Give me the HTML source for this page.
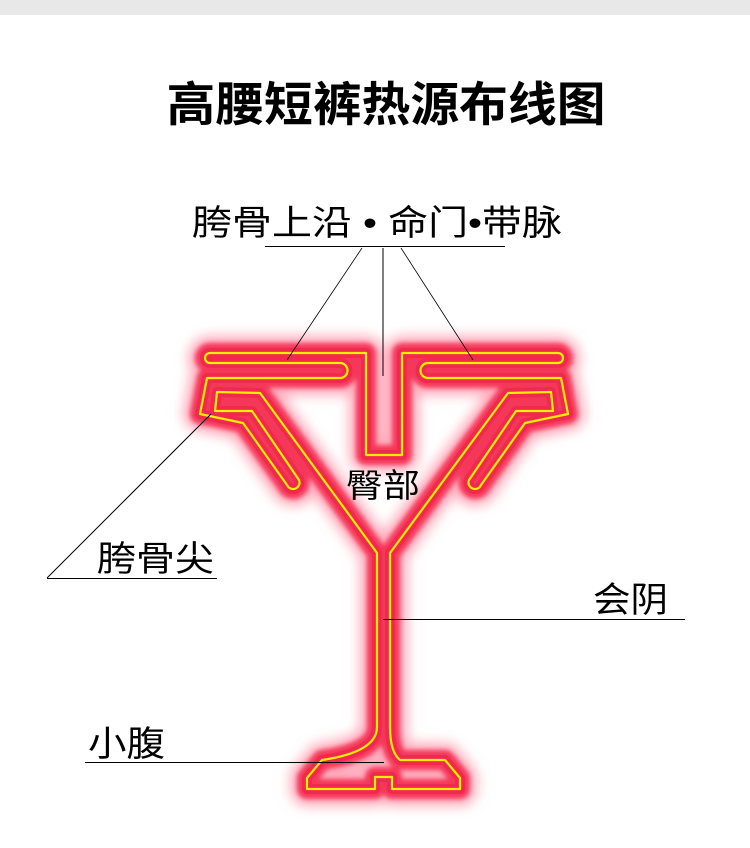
<!DOCTYPE html>
<html><head><meta charset="utf-8"><style>
html,body{margin:0;padding:0;background:#fff;}
svg{display:block;}
text{font-family:"Liberation Sans","Noto Sans CJK SC",sans-serif;fill:#000;}
</style></head><body>
<svg width="750" height="848" viewBox="0 0 750 848" xmlns="http://www.w3.org/2000/svg">
<defs>
<filter id="b1" x="-20%" y="-20%" width="140%" height="140%"><feGaussianBlur stdDeviation="6"/></filter>
<filter id="b2" x="-20%" y="-20%" width="140%" height="140%"><feGaussianBlur stdDeviation="2.5"/></filter>
<g id="wire">
<path d="M366,455 L366,353 L210,353 A5,5 0 0 0 210,363 L340,363 A7.5,7.5 0 0 1 340,378 L207,378 L200,414 L243,423 L287,485 A6,6 0 0 0 299,480 L252,411 L215,411 L217,392 L260,393 L377,553 L377,727 Q377,752 322,760 L307,778 L307,789 L375,789 L375,777 L392,777 L392,789 L460,789 L460,778 L445,760 L400,760 Q390,752 390,727 L390,553 L508,393 L551,392 L553,411 L516,411 L469,480 A6,6 0 0 0 481,485 L525,423 L568,414 L561,378 L428,378 A7.5,7.5 0 0 1 428,363 L558,363 A5,5 0 0 0 558,353 L402,353 L402,455 Z"/>
</g>
</defs>
<rect x="0" y="0" width="750" height="15" fill="#e8e8e8"/>
<text x="386" y="121" font-size="47" font-weight="bold" text-anchor="middle" textLength="439" lengthAdjust="spacingAndGlyphs">高腰短裤热源布线图</text>

<use href="#wire" fill="none" stroke="#ffaabb" stroke-width="34" stroke-linejoin="round" filter="url(#b1)"/>
<use href="#wire" fill="none" stroke="#f5385a" stroke-width="20" stroke-linejoin="round" filter="url(#b2)"/>
<use href="#wire" fill="none" stroke="#f02a4e" stroke-width="10" stroke-linejoin="round"/>
<use href="#wire" fill="none" stroke="#ffee00" stroke-width="2.2" stroke-linejoin="round"/>

<g stroke="#000" fill="none">
<line x1="265" y1="246.5" x2="505" y2="246.5" stroke-width="1"/>
<line x1="362" y1="248" x2="287" y2="360" stroke-width="0.8"/>
<line x1="383" y1="248" x2="383" y2="376" stroke-width="1"/>
<line x1="401" y1="248" x2="473" y2="360" stroke-width="0.8"/>
<line x1="47" y1="578.5" x2="217" y2="578.5" stroke-width="1"/>
<line x1="47" y1="578" x2="211" y2="414" stroke-width="1"/>
<line x1="383" y1="619.5" x2="685" y2="619.5" stroke-width="1"/>
<line x1="85" y1="762.5" x2="384" y2="762.5" stroke-width="1"/>
</g>
<text x="192" y="235" font-size="35" textLength="370" lengthAdjust="spacingAndGlyphs">胯骨上沿 • 命门•带脉</text>
<text x="346" y="497" font-size="33" textLength="74" lengthAdjust="spacingAndGlyphs">臀部</text>
<text x="97" y="571" font-size="35" textLength="117" lengthAdjust="spacingAndGlyphs">胯骨尖</text>
<text x="593" y="612" font-size="35" textLength="75" lengthAdjust="spacingAndGlyphs">会阴</text>
<text x="88" y="756" font-size="35" textLength="77" lengthAdjust="spacingAndGlyphs">小腹</text>
</svg>
</body></html>
